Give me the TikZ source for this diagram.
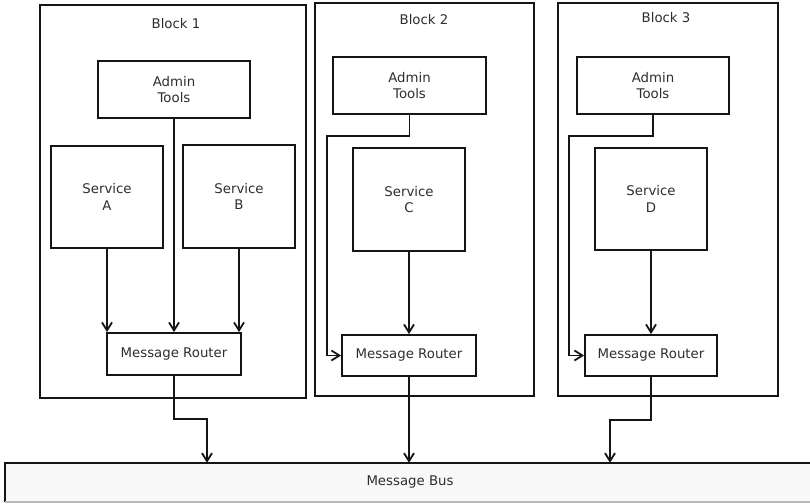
\documentclass[tikz,border=0pt]{standalone}
\usepackage{fontspec}
\setmainfont{DejaVu Sans}
\usetikzlibrary{arrows.meta}
\definecolor{ink}{HTML}{151515}
\definecolor{txt}{HTML}{2E2E2E}
\definecolor{busfill}{HTML}{F8F8F8}
\definecolor{busedge}{HTML}{B8B8B8}
\begin{document}
\begin{tikzpicture}[x=1pt,y=-1pt,
  lbl/.style={text=txt, font=\fontsize{13.3}{16.5}\selectfont, align=center, inner sep=0pt},
  blockbox/.style={draw=ink, line width=1.8pt, rectangle, inner sep=0pt},
  box/.style={draw=ink, line width=1.8pt, fill=white, rectangle, inner sep=0pt, lbl},
  busnode/.style={fill=busfill, rectangle, inner sep=0pt, lbl},
  link/.style={draw=ink, line width=1.8pt, -{Straight Barb[length=8pt,width=10pt]}}]
\useasboundingbox (0,0) rectangle (810,503);
\clip (0,0) rectangle (810,503);
\fill[white] (0,0) rectangle (810,503);

% the three blocks and their titles
\node[blockbox, minimum width=266pt, minimum height=393pt] (blk1) at (173,201.5) {};
\node[blockbox, minimum width=219pt, minimum height=393pt] (blk2) at (424.5,199.5) {};
\node[blockbox, minimum width=220pt, minimum height=393pt] (blk3) at (668,199.5) {};
\node[lbl] (t1) at (176,24) {Block 1};
\node[lbl] (t2) at (424,20) {Block 2};
\node[lbl] (t3) at (666,18) {Block 3};

% block 1
\node[box, minimum width=152pt, minimum height=57pt] (a1) at (174,89.5) {Admin\\Tools};
\node[box, minimum width=112pt, minimum height=102pt] (sa) at (107,197) {Service\\A};
\node[box, minimum width=112pt, minimum height=103pt] (sb) at (239,196.5) {Service\\B};
\node[box, minimum width=134pt, minimum height=42pt] (r1) at (174,354) {Message Router};

% block 2
\node[box, minimum width=153pt, minimum height=57pt] (a2) at (409.5,85.5) {Admin\\Tools};
\node[box, minimum width=112pt, minimum height=103pt] (sc) at (409,199.5) {Service\\C};
\node[box, minimum width=134pt, minimum height=41pt] (r2) at (409,355.5) {Message Router};

% block 3
\node[box, minimum width=152pt, minimum height=57pt] (a3) at (653,85.5) {Admin\\Tools};
\node[box, minimum width=112pt, minimum height=102pt] (sd) at (651,199) {Service\\D};
\node[box, minimum width=132pt, minimum height=41pt] (r3) at (651,355.5) {Message Router};

% message bus along the bottom
\node[busnode, minimum width=810pt, minimum height=39pt] (bus) at (410,482.5) {Message Bus};
\draw[ink, line width=1.8pt] (bus.south west) -- (bus.north west) -- (bus.north east);
\draw[busedge, line width=1.5pt] (bus.south west) -- (bus.south east);

% bend points
\coordinate (j2) at (327,136);
\coordinate (j3) at (569,136);
\coordinate (k1) at (207,419);
\coordinate (k3) at (610,420);

% connectors inside the blocks
\draw[link] (sa.south) -- (sa.south |- r1.north);
\draw[link] (a1.south) -- (r1.north);
\draw[link] (sb.south) -- (sb.south |- r1.north);
\draw[link] (sc.south) -- (sc.south |- r2.north);
\draw[link] (a2.south) |- (j2) |- (r2.west);
\draw[link] (sd.south) -- (sd.south |- r3.north);
\draw[link] (a3.south) |- (j3) |- (r3.west);

% routers to the bus
\draw[link] (r1.south) |- (k1) -- (k1 |- bus.north);
\draw[link] (r2.south) -- (r2.south |- bus.north);
\draw[link] (r3.south) |- (k3) -- (k3 |- bus.north);
\end{tikzpicture}
\end{document}
